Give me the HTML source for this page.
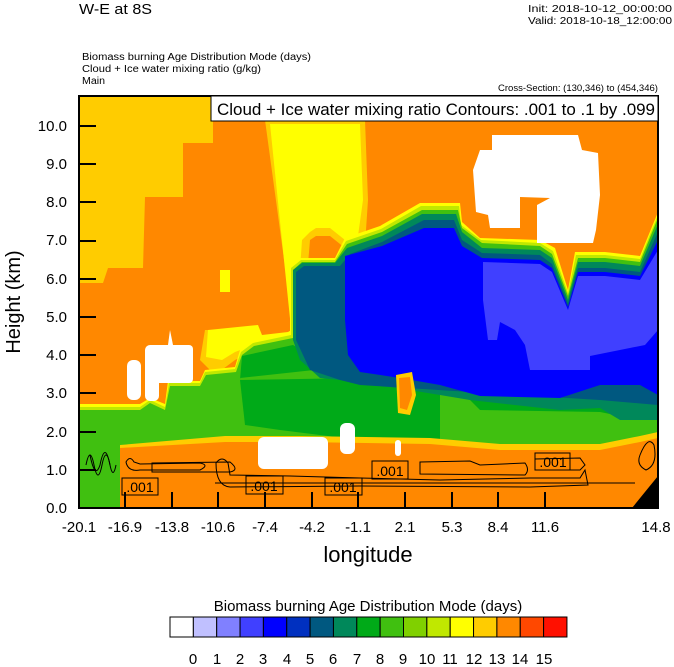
<!DOCTYPE html>
<html><head><meta charset="utf-8"><style>
body{margin:0;background:#fff;width:674px;height:667px;overflow:hidden}
svg{display:block;font-family:"Liberation Sans",sans-serif}
</style></head><body>
<svg width="674" height="667" viewBox="0 0 674 667">
<rect width="674" height="667" fill="#fff"/>
<defs><clipPath id="c"><rect x="79" y="96" width="579" height="412"/></clipPath></defs>
<g clip-path="url(#c)">
<rect x="79" y="96" width="579" height="412" fill="#ff8800"/>
<polygon fill="#ffcc00" points="79,96 213,96 213,143 183,143 183,197 145,197 143,268 108,268 103,283 79,283"/>
<!-- yellow plume -->
<polygon fill="#ffcc00" points="265,120 365,120 368,200 365,245 345,248 330,236 316,236 310,240 305,300 302,330 282,338 263,338 258,330 205,330 200,360 215,375 235,360 265,345 295,340"/>
<polygon fill="#ffff00" points="270,124 360,124 363,200 358,236 345,240 330,228 316,228 310,232 302,240 298,300 300,325 288,332 262,335 258,325 208,330 206,357 222,360 235,352 262,342 292,338"/>
<rect x="220" y="270" width="10" height="22" fill="#ffff00"/>
<!-- green / blue region base -->
<polygon fill="#ffff00" points="79,404 140,404 150,398 165,404 168,381 200,381 205,370 235,367 240,350 252,341 290,332 290,266 300,258 335,258 345,238 380,226 420,203 460,203 462,222 480,238 540,240 555,248 568,290 575,252 605,252 640,256 658,212 658,448 79,448"/>
<polygon fill="#c0e800" points="79,407 140,407 150,400 165,407 169,383 200,383 205,372 235,369 241,352 253,343 291,335 291,268 301,260 335,260 346,241 381,229 421,206 459,206 461,225 481,240 540,243 553,251 568,293 576,255 605,255 640,259 658,215 658,448 79,448"/>
<polygon fill="#40c010" points="79,410 140,410 150,403 165,410 170,386 200,386 206,375 236,372 242,355 254,346 293,338 293,270 302,262 335,262 347,244 382,232 422,210 458,210 462,228 482,243 540,246 552,254 568,296 578,258 605,258 640,262 658,218 658,448 79,448"/>
<polygon fill="#00aa18" points="240,380 242,356 293,345 310,355 360,380 440,392 470,400 480,410 600,412 640,420 658,415 658,380 600,395 470,380 360,365 240,378"/>
<polygon fill="#00aa18" points="240,380 360,378 440,392 440,440 360,440 280,430 245,425"/>
<polygon fill="#00885a" points="293,340 293,270 302,263 335,263 347,248 382,236 422,214 456,214 462,232 482,248 540,250 552,258 568,300 578,262 605,262 640,266 658,224 658,420 620,420 600,408 560,410 470,400 440,395 360,382 320,378 300,360"/>
<polygon fill="#005880" points="296,340 296,272 304,266 340,266 350,254 382,242 424,220 454,220 462,240 482,253 540,255 552,264 568,304 578,268 605,268 640,272 658,232 658,405 600,400 470,392 360,385 340,380 310,370"/>
<polygon fill="#0000ff" points="345,256 382,246 424,228 454,228 462,246 482,258 540,260 552,268 568,307 578,272 605,272 640,276 658,240 658,395 640,385 600,385 560,398 480,396 440,385 400,378 360,372 348,355 345,320"/>
<polygon fill="#4040ff" points="483,262 540,264 552,272 568,310 578,276 605,276 640,280 658,250 658,330 645,345 590,356 590,370 530,370 525,345 515,330 500,322 497,340 488,340 483,300"/>
<polygon fill="#ffcc00" points="396,375 412,372 416,395 410,415 398,413"/>
<polygon fill="#ff8800" points="399,378 410,377 412,395 407,410 400,408"/>
<polygon fill="#ffcc00" points="120,445 225,436 300,436 430,438 500,444 600,444 640,436 658,432 658,508 120,508"/>
<polygon fill="#ff8800" points="120,448 225,442 300,442 430,444 500,450 600,450 640,442 658,438 658,508 120,508"/>
<rect x="79" y="448" width="41" height="60" fill="#40c010"/>
<g fill="#fff">
<rect x="127" y="360" width="14" height="40" rx="6"/>
<rect x="145" y="345" width="14" height="56" rx="5"/>
<rect x="148" y="345" width="45" height="38" rx="4"/>
<polygon points="168,345 170,330 173,345"/>
<rect x="258" y="437" width="70" height="32" rx="6"/>
<rect x="340" y="423" width="15" height="31" rx="6"/>
<rect x="395" y="440" width="6" height="16" rx="3"/>
<polygon points="492,135 578,135 582,150 598,153 600,195 596,230 593,243 537,243 537,205 550,198 520,197 520,228 490,228 488,215 476,212 473,170 480,150 492,150"/>
</g>
<polygon fill="#000" points="632,508 658,476 658,508"/>
<g fill="none" stroke="#000" stroke-width="1">
<path d="M126,462 Q130,455 134,462 L140,464 L200,463 Q210,465 200,470 L140,470 Q128,472 126,462 Z"/>
<path d="M152,463 L230,462 Q240,470 230,472 L152,472 Z"/>
<path d="M215,483 L635,483"/>
<path d="M216,463 Q222,455 228,463 L230,475 L290,476 L360,478 L440,480 L530,478 L580,478 L585,470 L588,485 L530,487 L360,486 L230,487 Q216,486 216,463 Z"/>
<path d="M420,462 L470,461 L480,465 L525,463 Q530,470 525,475 L420,474 Z"/>
<path d="M535,459 L580,458 L585,465 L580,470 L535,470 Z"/>
<path d="M86,465 q4,-20 8,0 q4,20 8,0 q4,-20 8,0 q3,15 6,0"/>
<path d="M90,455 q5,25 10,10 q5,-25 10,0"/>
<path d="M640,455 q8,-20 14,-10 q4,20 -8,25 q-10,-5 -6,-15"/>
</g>
<g font-size="14" text-anchor="middle">
<rect x="122" y="478" width="36" height="17" fill="none" stroke="#000"/><text x="140" y="492">.001</text>
<rect x="246" y="476" width="37" height="18" fill="none" stroke="#000"/><text x="264" y="491">.001</text>
<rect x="325" y="478" width="37" height="17" fill="none" stroke="#000"/><text x="343" y="492">.001</text>
<rect x="372" y="461" width="36" height="18" fill="none" stroke="#000"/><text x="390" y="476">.001</text>
<rect x="535" y="453" width="35" height="17" fill="none" stroke="#000"/><text x="553" y="467">.001</text>
</g>
</g>
<rect x="79" y="96" width="579" height="412" fill="none" stroke="#000" stroke-width="2"/>
<g stroke="#000" stroke-width="2">
<path d="M79,470h17M79,432h17M79,393h17M79,355h17M79,317h17M79,279h17M79,241h17M79,202h17M79,164h17M79,126h17"/>
<path d="M125,508v-16M172,508v-16M218,508v-16M265,508v-16M312,508v-16M358,508v-16M405,508v-16M452,508v-16M498,508v-16M545,508v-16"/>
</g>
<rect x="211" y="96" width="447" height="25" fill="#fff" stroke="#000" stroke-width="1"/>
<text x="217" y="115" font-size="17" textLength="438" lengthAdjust="spacingAndGlyphs">Cloud + Ice water mixing ratio Contours: .001 to .1 by .099</text>
<g font-size="15" text-anchor="end">
<text x="67" y="513">0.0</text><text x="67" y="475">1.0</text><text x="67" y="437">2.0</text><text x="67" y="398">3.0</text><text x="67" y="360">4.0</text><text x="67" y="322">5.0</text><text x="67" y="284">6.0</text><text x="67" y="207">8.0</text><text x="67" y="245">7.0</text><text x="67" y="169">9.0</text><text x="67" y="131">10.0</text>
</g>
<g font-size="15" text-anchor="middle">
<text x="79" y="532">-20.1</text><text x="125" y="532">-16.9</text><text x="172" y="532">-13.8</text><text x="218" y="532">-10.6</text><text x="265" y="532">-7.4</text><text x="312" y="532">-4.2</text><text x="358" y="532">-1.1</text><text x="405" y="532">2.1</text><text x="452" y="532">5.3</text><text x="498" y="532">8.4</text><text x="545" y="532">11.6</text><text x="656" y="532">14.8</text>
</g>
<text x="368" y="562" font-size="22" text-anchor="middle">longitude</text>
<text transform="translate(20,302) rotate(-90)" font-size="20" text-anchor="middle">Height (km)</text>
<text x="79" y="14" font-size="15" textLength="73" lengthAdjust="spacingAndGlyphs">W-E at 8S</text>
<text x="528" y="12" font-size="10" textLength="144" lengthAdjust="spacingAndGlyphs">Init: 2018-10-12_00:00:00</text>
<text x="528" y="24" font-size="10" textLength="144" lengthAdjust="spacingAndGlyphs">Valid: 2018-10-18_12:00:00</text>
<text x="82" y="60" font-size="10" textLength="229" lengthAdjust="spacingAndGlyphs">Biomass burning Age Distribution Mode    (days)</text>
<text x="82" y="72" font-size="10" textLength="179" lengthAdjust="spacingAndGlyphs">Cloud + Ice water mixing ratio    (g/kg)</text>
<text x="82" y="84" font-size="10" textLength="23" lengthAdjust="spacingAndGlyphs">Main</text>
<text x="498" y="91" font-size="9" textLength="160" lengthAdjust="spacingAndGlyphs">Cross-Section: (130,346) to (454,346)</text>
<text x="368" y="611" font-size="15" text-anchor="middle">Biomass burning Age Distribution Mode  (days)</text>
<g stroke="#000" stroke-width="1">
<rect x="170" y="617" width="23.35" height="20" fill="#ffffff"/>
<rect x="193.35" y="617" width="23.35" height="20" fill="#c0c0ff"/>
<rect x="216.7" y="617" width="23.35" height="20" fill="#8080ff"/>
<rect x="240.05" y="617" width="23.35" height="20" fill="#4040ff"/>
<rect x="263.4" y="617" width="23.35" height="20" fill="#0000ff"/>
<rect x="286.75" y="617" width="23.35" height="20" fill="#0030c0"/>
<rect x="310.1" y="617" width="23.35" height="20" fill="#005880"/>
<rect x="333.45" y="617" width="23.35" height="20" fill="#00885a"/>
<rect x="356.8" y="617" width="23.35" height="20" fill="#00aa18"/>
<rect x="380.15" y="617" width="23.35" height="20" fill="#40c010"/>
<rect x="403.5" y="617" width="23.35" height="20" fill="#80d000"/>
<rect x="426.85" y="617" width="23.35" height="20" fill="#c0e800"/>
<rect x="450.2" y="617" width="23.35" height="20" fill="#ffff00"/>
<rect x="473.55" y="617" width="23.35" height="20" fill="#ffcc00"/>
<rect x="496.9" y="617" width="23.35" height="20" fill="#ff8800"/>
<rect x="520.25" y="617" width="23.35" height="20" fill="#ff4800"/>
<rect x="543.6" y="617" width="23.35" height="20" fill="#ff1000"/>
</g>
<g font-size="15" text-anchor="middle">
<text x="193" y="664">0</text><text x="217" y="664">1</text><text x="240" y="664">2</text><text x="263" y="664">3</text><text x="287" y="664">4</text><text x="310" y="664">5</text><text x="333" y="664">6</text><text x="357" y="664">7</text><text x="380" y="664">8</text><text x="403" y="664">9</text><text x="427" y="664">10</text><text x="450" y="664">11</text><text x="474" y="664">12</text><text x="497" y="664">13</text><text x="520" y="664">14</text><text x="544" y="664">15</text>
</g>
</svg>
</body></html>
